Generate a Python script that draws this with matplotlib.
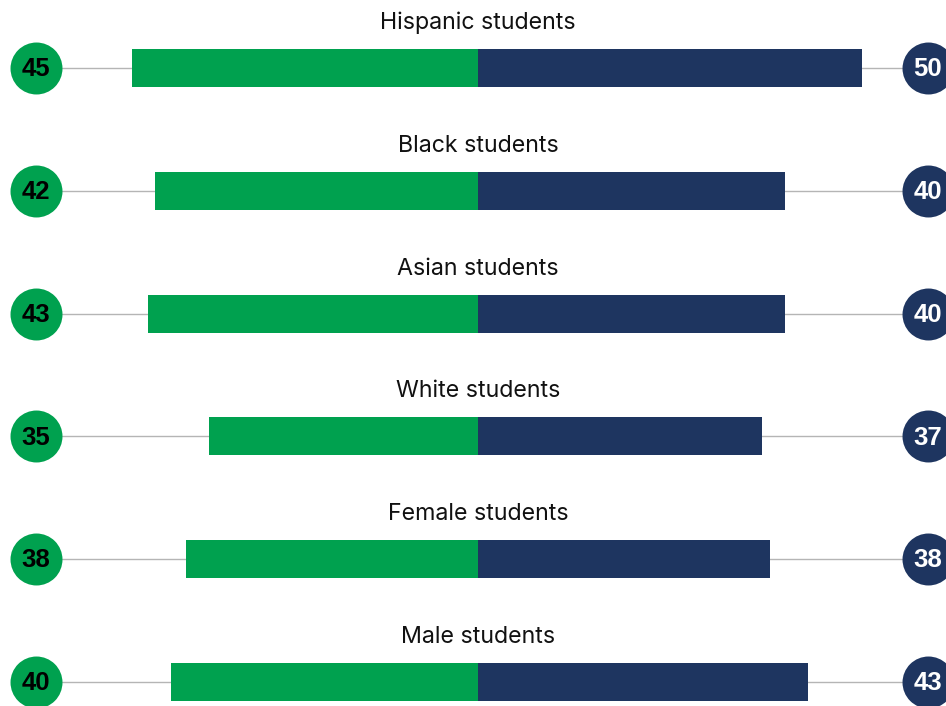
import matplotlib
matplotlib.use("Agg")
import matplotlib.pyplot as plt

# data, top to bottom
groups = ["Hispanic students", "Black students", "Asian students",
          "White students", "Female students", "Male students"]
left_vals = [45, 42, 43, 35, 38, 40]
right_vals = [50, 40, 40, 37, 38, 43]

GREEN = "#00A14F"
NAVY = "#1E3560"
GREY = "#b5b5b5"

plt.rcParams['font.family'] = ['Inter', 'DejaVu Sans']

fig = plt.figure(figsize=(9.46, 7.06), dpi=100)
ax = fig.add_axes([0, 0, 1, 1])

ppu = 7.68  # pixels per value unit
ax.set_xlim(-478 / ppu, 468 / ppu)
row_px = 122.8
ax.set_ylim((706 - 68) / row_px, -68 / row_px)
ax.axis("off")

x_left_dot = (36 - 478) / ppu
x_right_dot = (928 - 478) / ppu

for i, (name, lv, rv) in enumerate(zip(groups, left_vals, right_vals)):
    ax.plot([x_left_dot, x_right_dot], [i, i], color=GREY, lw=1, zorder=1)
    ax.barh(i, -lv, height=38 / row_px, color=GREEN, zorder=2)
    ax.barh(i, rv, height=38 / row_px, color=NAVY, zorder=2)
    ax.text(0, i - 45 / row_px, name, ha="center", va="center",
            fontsize=16.7, color="#111111")
    ax.scatter([x_left_dot], [i], s=1400, color=GREEN, zorder=3, linewidths=0)
    ax.scatter([x_right_dot], [i], s=1400, color=NAVY, zorder=3, linewidths=0)
    ax.text(x_left_dot, i + 0.01, str(lv), ha="center", va="center",
            fontsize=18.5, fontweight="bold", color="black", zorder=4,
            family="Liberation Sans")
    ax.text(x_right_dot, i + 0.01, str(rv), ha="center", va="center",
            fontsize=18.5, fontweight="bold", color="white", zorder=4,
            family="Liberation Sans")

fig.savefig("out.png", dpi=100)
